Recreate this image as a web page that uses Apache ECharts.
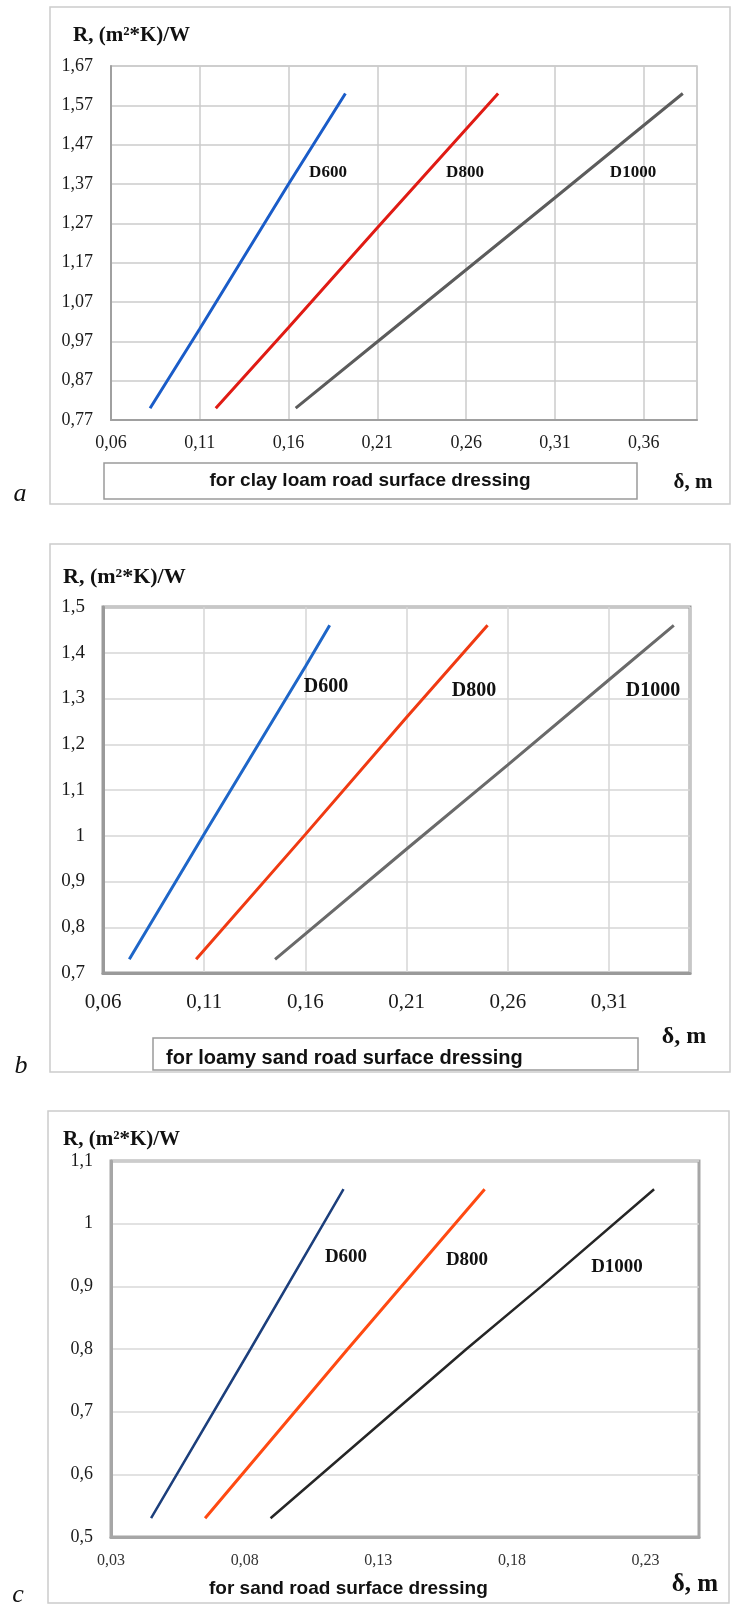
<!DOCTYPE html>
<html>
<head>
<meta charset="utf-8">
<script src="https://cdn.jsdelivr.net/npm/echarts@6/dist/echarts.min.js"></script>
<style>
  html, body { margin: 0; padding: 0; background: #fff; }
  #chart { width: 731px; height: 1605px; }
</style>
</head>
<body>
<div id="chart"></div>
<script>
// Panel a: clay loam
const clayXTicks = [0.06, 0.11, 0.16, 0.21, 0.26, 0.31, 0.36];
const clayXMax = 0.39;
const clayYTicks = [0.77, 0.87, 0.97, 1.07, 1.17, 1.27, 1.37, 1.47, 1.57, 1.67];
const clayD600 = [[0.082, 0.80], [0.11, 1.002], [0.16, 1.37], [0.192, 1.60]];
const clayD800 = [[0.119, 0.80], [0.16, 1.005], [0.21, 1.259], [0.278, 1.60]];
const clayD1000 = [[0.164, 0.80], [0.21, 0.969], [0.31, 1.335], [0.382, 1.60]];

// Panel b: loamy sand
const loamyXTicks = [0.06, 0.11, 0.16, 0.21, 0.26, 0.31];
const loamyXMax = 0.35;
const loamyYTicks = [0.7, 0.8, 0.9, 1, 1.1, 1.2, 1.3, 1.4, 1.5];
const loamyD600 = [[0.073, 0.73], [0.11, 1.004], [0.16, 1.37], [0.172, 1.46]];
const loamyD800 = [[0.106, 0.73], [0.16, 1.003], [0.21, 1.259], [0.25, 1.46]];
const loamyD1000 = [[0.145, 0.73], [0.21, 0.971], [0.26, 1.155], [0.31, 1.341], [0.342, 1.46]];

// Panel c: sand
const sandXTicks = [0.03, 0.08, 0.13, 0.18, 0.23];
const sandXMax = 0.25;
const sandYTicks = [0.5, 0.6, 0.7, 0.8, 0.9, 1, 1.1];
const sandD600 = [[0.045, 0.53], [0.0822, 0.80], [0.117, 1.055]];
const sandD800 = [[0.0652, 0.53], [0.1186, 0.80], [0.1698, 1.055]];
const sandD1000 = [[0.0897, 0.53], [0.163, 0.80], [0.191, 0.90], [0.2332, 1.055]];

const seriesNames = ['D600', 'D800', 'D1000'];

const serif = '"Liberation Serif", "Times New Roman", serif';
const sans = '"Liberation Sans", Arial, sans-serif';

// etiqueta con coma decimal, solo en los ticks de la lista
function tickFormatter(ticks, decimals) {
    return function (v) {
        const hit = ticks.find(t => Math.abs(t - v) < 1e-6);
        if (hit === undefined) return '';
        return (decimals ? hit.toFixed(decimals) : String(hit)).replace('.', ',');
    };
}

function xAxisFor(gridIndex, ticks, max, fontSize, margin, showGrid, lineColor, lineWidth, gridColor, labelColor) {
    return {
        type: 'value', gridIndex: gridIndex,
        min: ticks[0], max: max,
        interval: Math.round((ticks[1] - ticks[0]) * 1000) / 1000,
        axisLine: { show: true, lineStyle: { color: lineColor, width: lineWidth } },
        axisTick: { show: false },
        splitLine: { show: showGrid, lineStyle: { color: gridColor, width: 1.5 } },
        axisLabel: {
            margin: margin, fontFamily: serif, fontSize: fontSize, color: labelColor || '#1a1a1a',
            showMaxLabel: false, formatter: tickFormatter(ticks, 2)
        }
    };
}

function yAxisFor(gridIndex, ticks, decimals, fontSize, lineColor, lineWidth, gridColor) {
    return {
        type: 'value', gridIndex: gridIndex,
        min: ticks[0], max: ticks[ticks.length - 1],
        interval: Math.round((ticks[1] - ticks[0]) * 1000) / 1000,
        axisLine: { show: true, lineStyle: { color: lineColor, width: lineWidth } },
        axisTick: { show: false },
        splitLine: { show: true, lineStyle: { color: gridColor, width: 1.5 } },
        axisLabel: {
            margin: 18, fontFamily: serif, fontSize: fontSize, color: '#1a1a1a',
            formatter: tickFormatter(ticks, decimals)
        }
    };
}

function lineSeries(name, data, idx, color, width) {
    return {
        name: name, type: 'line', data: data,
        xAxisIndex: idx, yAxisIndex: idx,
        showSymbol: false, symbol: 'none', smooth: false,
        lineStyle: { color: color, width: width },
        silent: true, z: 5
    };
}

function txt(text, x, y, font, align, color) {
    return {
        type: 'text', z: 20,
        style: {
            text: text, x: x, y: y, font: font,
            fill: color || '#111',
            align: align || 'center', textAlign: align || 'center',
            verticalAlign: 'middle', textVerticalAlign: 'middle'
        }
    };
}

function box(x, y, w, h, color, lw) {
    return {
        type: 'rect', z: 1,
        shape: { x: x, y: y, width: w, height: h },
        style: { fill: 'none', stroke: color, lineWidth: lw }
    };
}

const chart = echarts.init(document.getElementById('chart'));

const option = {
    backgroundColor: '#ffffff',
    animation: false,
    grid: [
        { left: 111, top: 66, width: 586, height: 354, show: true, borderColor: '#c8c8c8', borderWidth: 1.5 },
        { left: 103, top: 607, width: 587, height: 366, show: true, borderColor: '#9a9a9a', borderWidth: 3 },
        { left: 111, top: 1161, width: 588, height: 376, show: true, borderColor: '#a6a6a6', borderWidth: 3 }
    ],
    xAxis: [
        xAxisFor(0, clayXTicks, clayXMax, 18, 14, true, '#a0a0a0', 2, '#cbcbcb'),
        xAxisFor(1, loamyXTicks, loamyXMax, 21, 19, true, '#9a9a9a', 3, '#d6d6d6'),
        xAxisFor(2, sandXTicks, sandXMax, 16, 16, false, '#a6a6a6', 3, '#d9d9d9', '#333')
    ],
    yAxis: [
        yAxisFor(0, clayYTicks, 2, 18, '#a0a0a0', 2, '#cbcbcb'),
        yAxisFor(1, loamyYTicks, 0, 19, '#9a9a9a', 3, '#d6d6d6'),
        yAxisFor(2, sandYTicks, 0, 18, '#a6a6a6', 3, '#d9d9d9')
    ],
    series: [
        lineSeries(seriesNames[0], clayD600, 0, '#1a5cc8', 3),
        lineSeries(seriesNames[1], clayD800, 0, '#e01b14', 3),
        lineSeries(seriesNames[2], clayD1000, 0, '#5c5c5c', 3),
        lineSeries(seriesNames[0], loamyD600, 1, '#1e66c8', 3),
        lineSeries(seriesNames[1], loamyD800, 1, '#f03a12', 3),
        lineSeries(seriesNames[2], loamyD1000, 1, '#6a6a6a', 3),
        lineSeries(seriesNames[0], sandD600, 2, '#1c3f7c', 2.5),
        lineSeries(seriesNames[1], sandD800, 2, '#ff4a12', 3),
        lineSeries(seriesNames[2], sandD1000, 2, '#262626', 2.5)
    ],
    graphic: [
        // marcos exteriores
        box(50, 7, 680, 497, '#cccccc', 1.5),
        box(50, 544, 680, 528, '#cccccc', 1.5),
        box(48, 1111, 681, 492, '#cccccc', 1.5),
        // panel a
        txt('R, (m²*K)/W', 73, 36, 'bold 21px ' + serif, 'left'),
        txt(seriesNames[0], 328, 173, 'bold 17px ' + serif),
        txt(seriesNames[1], 465, 173, 'bold 17px ' + serif),
        txt(seriesNames[2], 633, 173, 'bold 17px ' + serif),
        box(104, 463, 533, 36, '#9a9a9a', 1.5),
        txt('for clay loam road surface dressing', 370, 481, 'bold 19px ' + sans, 'center', '#111'),
        txt('δ, m', 693, 483, 'bold 21px ' + serif),
        txt('a', 20, 494, 'italic 26px ' + serif),
        // panel b
        txt('R, (m²*K)/W', 63, 577, 'bold 22px ' + serif, 'left'),
        txt(seriesNames[0], 326, 687, 'bold 20px ' + serif),
        txt(seriesNames[1], 474, 691, 'bold 20px ' + serif),
        txt(seriesNames[2], 653, 691, 'bold 20px ' + serif),
        box(153, 1038, 485, 32, '#9a9a9a', 1.5),
        txt('for loamy sand road surface dressing', 166, 1058, 'bold 20px ' + sans, 'left', '#111'),
        txt('δ, m', 684, 1037, 'bold 24px ' + serif),
        txt('b', 21, 1066, 'italic 26px ' + serif),
        // panel c
        txt('R, (m²*K)/W', 63, 1140, 'bold 21px ' + serif, 'left'),
        txt(seriesNames[0], 346, 1257, 'bold 19px ' + serif),
        txt(seriesNames[1], 467, 1260, 'bold 19px ' + serif),
        txt(seriesNames[2], 617, 1267, 'bold 19px ' + serif),
        txt('for sand road surface dressing', 209, 1589, 'bold 19px ' + sans, 'left', '#111'),
        txt('δ, m', 695, 1585, 'bold 25px ' + serif),
        txt('c', 18, 1595, 'italic 26px ' + serif)
    ]
};

chart.setOption(option);
</script>
</body>
</html>
